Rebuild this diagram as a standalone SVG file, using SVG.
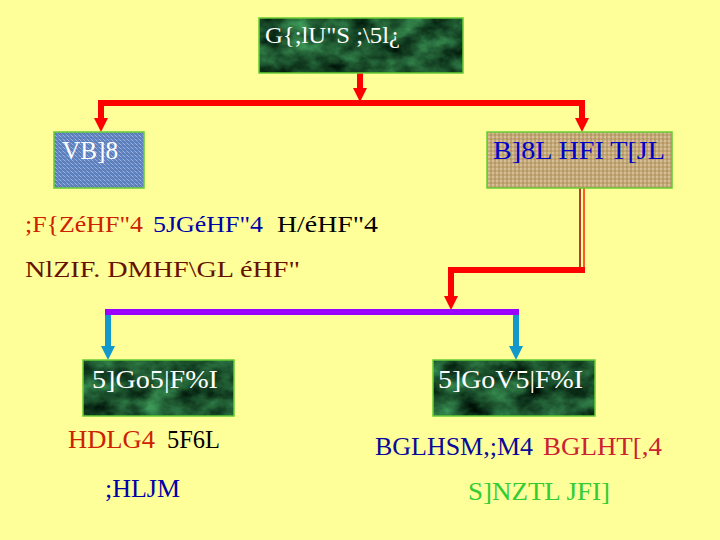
<svg xmlns="http://www.w3.org/2000/svg" width="720" height="540" viewBox="0 0 720 540">
  <style>
    text { font-family: "Liberation Serif", Tinos, "Times New Roman", Times, serif; }
    .box { stroke: #66CC33; stroke-width: 1.5; }
    .marble { fill: #1F5A30; filter: url(#marbleFx); }
    .w { fill: #FFFFFF; }
    .red { stroke: #FF0000; stroke-width: 6; fill: none; }
    .cyan { stroke: #1199CC; stroke-width: 6; fill: none; }
    .purple { stroke: #9900FF; stroke-width: 6; fill: none; }
  </style>
  <defs>
    <filter id="marbleFx" x="0" y="0" width="1" height="1" color-interpolation-filters="sRGB">
      <feTurbulence type="fractalNoise" baseFrequency="0.035 0.05" numOctaves="4" seed="7" result="n"/>
      <feColorMatrix in="n" type="matrix" values="0.35 0 0 0 -0.06  0.75 0 0 0 -0.04  0.45 0 0 0 -0.04  0 0 0 0 1" result="g"/>
      <feComposite in="g" in2="SourceGraphic" operator="in"/>
    </filter>
    <pattern id="denim" width="4" height="4" patternUnits="userSpaceOnUse">
      <rect width="4" height="4" fill="#6184C2"/>
      <path d="M0,0 L4,4" stroke="#9BB2DE" stroke-width="1"/>
      <path d="M0,2 H4" stroke="#4D6CA8" stroke-width="0.7"/>
    </pattern>
    <pattern id="burlap" width="4" height="4" patternUnits="userSpaceOnUse">
      <rect width="4" height="4" fill="#C6A978"/>
      <path d="M0,1 H4" stroke="#E6D6AE" stroke-width="1"/>
      <path d="M3,0 V4" stroke="#9A7C4E" stroke-width="0.8"/>
    </pattern>
    <marker id="ahRed" markerUnits="userSpaceOnUse" markerWidth="14" markerHeight="14" refX="4" refY="7" orient="auto-start-reverse">
      <path d="M0,0 L14,7 L0,14 z" fill="#FF0000"/>
    </marker>
    <marker id="ahCyan" markerUnits="userSpaceOnUse" markerWidth="14" markerHeight="14" refX="4" refY="7" orient="auto">
      <path d="M0,0 L14,7 L0,14 z" fill="#1199CC"/>
    </marker>
  </defs>

  <rect width="720" height="540" fill="#FFFF99"/>

  <g id="connectors">
    <path class="red" d="M360,73 V92" marker-end="url(#ahRed)"/>
    <path class="red" d="M101,122 V103 H582 V122" marker-start="url(#ahRed)" marker-end="url(#ahRed)"/>
    <path d="M580,188 V268" stroke="#990000" stroke-width="1.5"/>
    <path d="M584,188 V268" stroke="#FF2200" stroke-width="1.5"/>
    <path class="red" d="M585,270 H451 V300" marker-end="url(#ahRed)"/>
    <path class="cyan" d="M108,312 V350" marker-end="url(#ahCyan)"/>
    <path class="cyan" d="M516,312 V350" marker-end="url(#ahCyan)"/>
    <path class="purple" d="M105,312 H519"/>
  </g>

  <g id="top">
    <rect class="marble" x="259" y="18" width="204" height="55"/>
    <rect class="box" x="259" y="18" width="204" height="55" fill="none"/>
    <text class="w" x="265" y="43" font-size="24" textLength="135" lengthAdjust="spacingAndGlyphs">G{;lU"S ;\5l¿</text>
  </g>

  <g id="left">
    <rect class="box" x="54" y="132" width="90" height="56" fill="url(#denim)"/>
    <text class="w" x="62" y="159" font-size="26" textLength="56" lengthAdjust="spacingAndGlyphs">VB]8</text>
  </g>

  <g id="right">
    <rect class="box" x="487" y="132" width="185" height="56" fill="url(#burlap)"/>
    <text x="493" y="159" font-size="26" fill="#0000CC" textLength="172" lengthAdjust="spacingAndGlyphs">B]8L HFI T[JL</text>
  </g>

  <g id="notes">
    <text y="232" font-size="23">
      <tspan x="25" fill="#CC2200" textLength="118" lengthAdjust="spacingAndGlyphs">;F{ZéHF"4</tspan>
      <tspan x="153" fill="#0000AA" textLength="110" lengthAdjust="spacingAndGlyphs">5JGéHF"4</tspan>
      <tspan x="277" fill="#000000" textLength="101" lengthAdjust="spacingAndGlyphs">H/éHF"4</tspan>
    </text>
    <text x="25" y="277" font-size="24" fill="#661100" textLength="275" lengthAdjust="spacingAndGlyphs">NlZIF. DMHF\GL éHF"</text>
  </g>

  <g id="child-left">
    <rect class="marble" x="83" y="360" width="151" height="56"/>
    <rect class="box" x="83" y="360" width="151" height="56" fill="none"/>
    <text class="w" x="92" y="388" font-size="26" textLength="126" lengthAdjust="spacingAndGlyphs">5]Go5|F%I</text>
  </g>

  <g id="child-right">
    <rect class="marble" x="433" y="360" width="162" height="56"/>
    <rect class="box" x="433" y="360" width="162" height="56" fill="none"/>
    <text class="w" x="438" y="388" font-size="26" textLength="145" lengthAdjust="spacingAndGlyphs">5]GoV5|F%I</text>
  </g>

  <g id="child-left-notes">
    <text y="448" font-size="25">
      <tspan x="68" fill="#CC2200" textLength="87" lengthAdjust="spacingAndGlyphs">HDLG4</tspan>
      <tspan x="167" fill="#000000" textLength="53" lengthAdjust="spacingAndGlyphs">5F6L</tspan>
    </text>
    <text x="105" y="497" font-size="25" fill="#0000AA" textLength="75" lengthAdjust="spacingAndGlyphs">;HLJM</text>
  </g>

  <g id="child-right-notes">
    <text y="455" font-size="25">
      <tspan x="375" fill="#0A0A99" textLength="158" lengthAdjust="spacingAndGlyphs">BGLHSM,;M4</tspan>
      <tspan x="543" fill="#CC2233" textLength="119" lengthAdjust="spacingAndGlyphs">BGLHT[,4</tspan>
    </text>
    <text x="468" y="500" font-size="25" fill="#33CC33" textLength="142" lengthAdjust="spacingAndGlyphs">S]NZTL JFI]</text>
  </g>
</svg>
